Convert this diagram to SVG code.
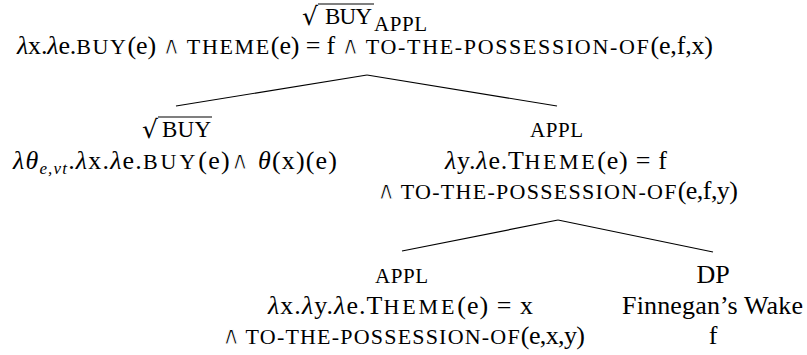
<svg xmlns="http://www.w3.org/2000/svg" width="807" height="355" viewBox="0 0 807 355">
<style>
text,tspan{font-family:"Liberation Serif","Times New Roman",serif;font-size:26px;fill:#000}
tspan.sc{font-size:22px;letter-spacing:1.8px}
text.lab{font-size:21px;letter-spacing:1px}
tspan.lam{font-style:italic}
tspan.it{font-style:italic}
tspan.sub{font-size:17px;font-style:italic}
tspan.and{font-family:"DejaVu Sans",sans-serif;font-size:25px;stroke:#fff;stroke-width:0.9px}
text.rad{font-family:"DejaVu Serif",serif;font-size:25px}
.edge{stroke:#000;stroke-width:1.2;fill:none}
.bar{stroke:#000;stroke-width:1.1}
</style>
<rect width="807" height="355" fill="#fff"/>
<g id="connectors">
<line class="edge" x1="367" y1="75" x2="176" y2="106"/>
<line class="edge" x1="367" y1="75" x2="557" y2="106"/>
<line class="edge" x1="558" y1="220" x2="402" y2="251"/>
<line class="edge" x1="558" y1="220" x2="713" y2="252"/>
</g>
<g id="root">
<text class="rad" x="302" y="25">√</text>
<line class="bar" x1="318" y1="4" x2="374" y2="4"/>
<text class="lab" x="325" y="24" textLength="48" style="font-size:23px">BUY</text>
<text class="lab" x="374" y="31" textLength="54">APPL</text>
<text x="365" y="54" text-anchor="middle" textLength="696"><tspan class="lam">λ</tspan>x.<tspan class="lam">λ</tspan>e.<tspan class="sc">BUY</tspan>(e) <tspan class="and">∧</tspan> <tspan class="sc">THEME</tspan>(e) = f <tspan class="and">∧</tspan> <tspan class="sc">TO-THE-POSSESSION-OF</tspan>(e,f,x)</text>
</g>
<g id="buy">
<text class="rad" x="142" y="138">√</text>
<line class="bar" x1="158" y1="117" x2="212" y2="117"/>
<text class="lab" x="162" y="137" textLength="50" style="font-size:23px">BUY</text>
<text x="175" y="169" text-anchor="middle" textLength="324"><tspan class="lam">λ</tspan><tspan class="it">θ</tspan><tspan class="sub" dy="5">e,vt</tspan><tspan dy="-5">.</tspan><tspan class="lam">λ</tspan>x.<tspan class="lam">λ</tspan>e.<tspan class="sc">BUY</tspan>(e)<tspan class="and">∧</tspan> <tspan class="it">θ</tspan>(x)(e)</text>
</g>
<g id="applP">
<text x="557" y="137" text-anchor="middle" class="lab" textLength="54">APPL</text>
<text x="556" y="169" text-anchor="middle" textLength="222"><tspan class="lam">λ</tspan>y.<tspan class="lam">λ</tspan>e.T<tspan class="sc">HEME</tspan>(e) = f</text>
<text x="557.5" y="199" text-anchor="middle" textLength="361"><tspan class="and">∧</tspan> <tspan class="sc">TO-THE-POSSESSION-OF</tspan>(e,f,y)</text>
</g>
<g id="appl">
<text x="402" y="283" text-anchor="middle" class="lab" textLength="54">APPL</text>
<text x="400.5" y="314" text-anchor="middle" textLength="265"><tspan class="lam">λ</tspan>x.<tspan class="lam">λ</tspan>y.<tspan class="lam">λ</tspan>e.T<tspan class="sc">HEME</tspan>(e) = x</text>
<text x="403.5" y="344" text-anchor="middle" textLength="363"><tspan class="and">∧</tspan> <tspan class="sc">TO-THE-POSSESSION-OF</tspan>(e,x,y)</text>
</g>
<g id="dp">
<text x="713" y="283" text-anchor="middle">DP</text>
<text x="712.5" y="314" text-anchor="middle" textLength="181">Finnegan’s Wake</text>
<text x="713" y="344" text-anchor="middle">f</text>
</g>
</svg>
